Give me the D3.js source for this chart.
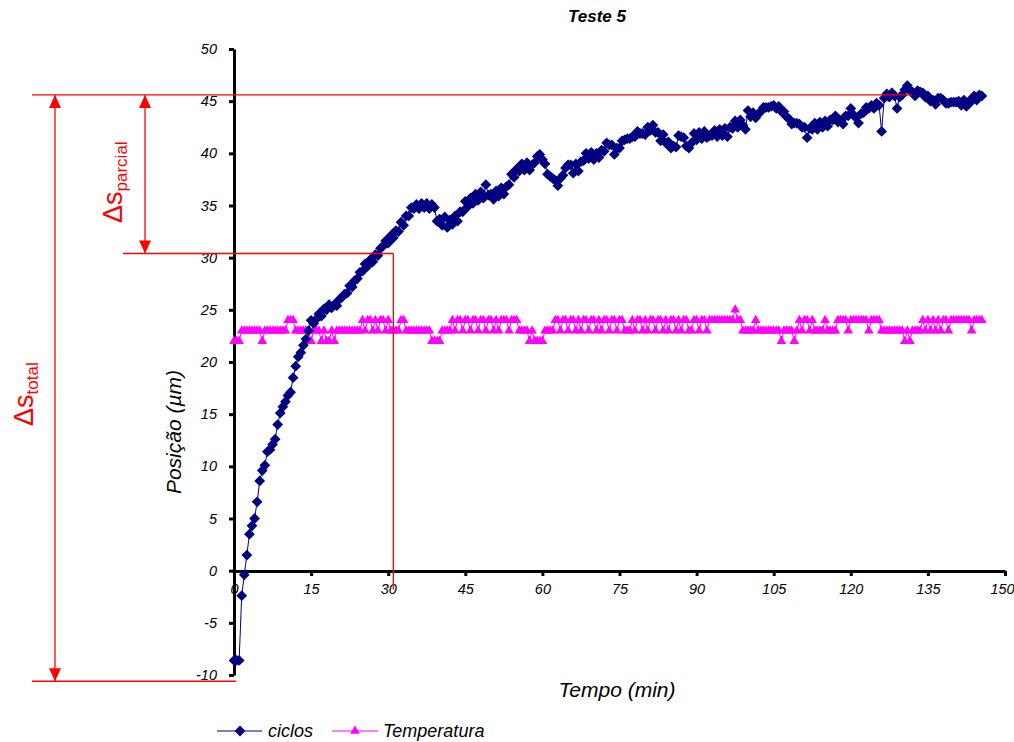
<!DOCTYPE html>
<html>
<head>
<meta charset="utf-8">
<script src="https://cdn.jsdelivr.net/npm/d3@7"></script>
<style>
  body { margin: 0; background: #fff; }
  svg { display: block; font-family: "Liberation Sans", Arial, sans-serif; }
</style>
</head>
<body>
<svg id="chart" width="1014" height="742"></svg>
<script>
// samples every 0.5 min
const passo = 0.5;

// posição (µm), "ciclos"
const ciclos = [
  -8.6,-8.6,-8.6,-2.4,-0.4,1.5,3.5,4.3,5.0,6.6,
  8.6,9.6,10.1,11.4,11.6,12.1,12.6,14.0,15.1,15.7,
  16.2,16.8,17.1,18.5,19.6,20.5,20.9,21.6,22.2,23.0,
  24.0,23.7,24.1,24.6,24.4,25.1,25.0,25.5,25.2,25.5,
  25.4,26.0,26.2,26.5,26.6,27.3,27.2,27.8,28.0,28.6,
  28.7,29.4,29.2,29.8,29.6,30.3,30.2,30.9,31.1,31.6,
  31.4,32.1,31.9,32.6,32.5,33.4,33.1,34.0,34.0,34.8,
  34.7,35.1,34.7,35.2,34.8,35.2,34.7,35.1,34.8,33.5,
  33.7,33.1,33.9,32.9,33.6,33.2,34.0,33.5,34.4,34.4,
  35.4,34.9,35.7,35.2,36.1,35.5,36.3,35.7,37.0,36.0,
  36.1,35.6,36.4,35.9,36.7,36.1,36.8,37.0,38.0,37.7,
  38.5,38.3,39.0,38.4,39.1,38.4,38.9,39.1,39.7,39.9,
  39.4,39.0,38.0,37.8,37.6,37.4,36.9,37.6,37.9,38.6,
  38.9,38.9,38.1,39.0,38.3,39.2,39.3,40.0,39.5,40.1,
  39.4,40.0,39.6,40.3,40.2,41.0,40.8,40.8,39.9,40.5,
  40.5,41.2,41.3,41.4,41.4,41.6,41.6,42.1,41.9,41.9,
  41.8,42.5,42.2,42.7,42.0,42.0,41.2,41.8,41.0,41.1,
  40.5,40.7,40.6,41.7,41.6,41.5,40.7,40.5,41.0,41.9,
  41.3,42.0,41.4,42.1,41.5,41.7,41.7,42.2,41.6,42.3,
  41.7,42.4,41.6,42.5,42.4,43.1,42.5,43.2,42.7,42.3,
  44.1,43.5,43.9,43.4,43.8,44.0,44.4,44.4,44.4,44.5,
  44.6,44.3,44.5,44.0,44.0,43.5,43.3,42.8,42.9,42.9,
  42.8,42.5,42.5,41.5,42.4,42.3,42.9,42.3,43.0,42.5,
  43.1,42.6,43.2,43.2,43.6,43.0,43.1,42.8,43.6,43.6,
  44.3,43.7,43.4,42.9,43.8,43.9,44.4,44.3,44.6,44.3,
  44.8,44.6,42.1,45.3,45.7,45.4,45.8,45.5,44.3,45.4,
  45.6,46.1,46.5,46.0,45.9,45.5,46.0,45.9,45.8,45.4,
  45.5,45.0,45.1,44.7,45.3,45.3,45.1,44.8,44.8,44.9,
  44.9,44.9,45.0,44.6,45.1,44.5,45.0,45.0,45.5,45.1,
  45.6,45.5
];

// temperatura (°C)
const temperatura = [
  22,22,22,23,23,23,23,23,23,23,
  23,22,23,23,23,23,23,23,23,23,
  23,24,24,24,23,23,23,23,23,23,
  22,23,23,23,22,23,22,22,23,22,
  23,23,23,23,23,23,23,23,23,23,
  24,23,24,24,23,24,23,24,24,23,
  24,23,23,23,23,24,24,23,23,23,
  23,23,23,23,23,23,23,22,22,22,
  22,23,23,23,23,24,23,24,24,23,
  24,24,23,24,24,23,24,24,23,24,
  24,23,24,23,24,24,24,23,24,24,
  24,23,23,23,23,22,23,22,22,22,
  22,23,23,23,23,24,24,23,24,24,
  23,24,24,23,24,23,24,24,23,24,
  24,23,24,23,24,24,23,24,24,23,
  24,24,23,23,23,24,23,24,24,23,
  24,23,24,24,23,24,24,23,24,23,
  24,24,23,24,23,24,24,23,23,24,
  24,23,24,24,23,24,24,24,24,24,
  24,24,24,24,24,25,24,24,23,23,
  23,23,23,24,23,23,23,23,23,23,
  23,23,23,22,23,23,23,23,22,23,
  24,23,24,24,23,24,23,23,23,23,
  24,23,23,23,23,24,24,24,24,23,
  24,24,24,24,24,24,24,23,24,24,
  24,24,23,23,23,23,23,23,23,23,
  23,22,23,22,23,23,23,23,24,23,
  24,23,24,23,24,23,24,24,23,24,
  24,24,24,24,24,24,24,23,24,24,
  24,24
];

const xTicks = [0, 15, 30, 45, 60, 75, 90, 105, 120, 135, 150];
const yTicks = [-10, -5, 0, 5, 10, 15, 20, 25, 30, 35, 40, 45, 50];

// Δs annotation levels (µm) and time (min)
const sTopo = 45.6;
const sParcial = 30.4;
const sBase = -10.6;
const tParcial = 31;
const tTopoFim = 132;
const sParcialFim = -1.8;

const corCiclos = "#000080";
const corTemp = "#ff00ff";
const corSeta = "#ff0000";
const fonte = "'Liberation Sans', Arial, sans-serif";

const svg = d3.select("#chart");

const x = d3.scaleLinear().domain([0, 150]).range([234, 1005]);
const y = d3.scaleLinear().domain([-10, 50]).range([675, 49]);

function estiloEixo(g) {
  g.attr("font-family", fonte)
    .attr("font-size", 14.5)
    .attr("font-style", "italic");
  g.select(".domain").attr("stroke", "#000").attr("stroke-width", 3);
  g.selectAll(".tick line").attr("stroke", "#000").attr("stroke-width", 3);
  g.selectAll(".tick text").attr("fill", "#000");
}

// eixo x
svg.append("g")
  .attr("transform", `translate(0,${Math.round(y(0))})`)
  .call(d3.axisBottom(x).tickValues(xTicks).tickSize(5).tickSizeOuter(0).tickPadding(8)
    .tickFormat(d => String(d)))
  .call(estiloEixo)
  .call(g => g.selectAll(".tick text").filter(d => d === 150).attr("dx", -3));

// eixo y
svg.append("g")
  .attr("transform", `translate(${Math.round(x(0))},0)`)
  .call(d3.axisLeft(y).tickValues(yTicks).tickSize(5).tickSizeOuter(0).tickPadding(12)
    .tickFormat(d => String(d)))
  .call(estiloEixo);

// títulos
svg.append("text")
  .attr("x", 597).attr("y", 22)
  .attr("text-anchor", "middle")
  .attr("font-family", fonte)
  .attr("font-size", 17)
  .attr("font-weight", "bold")
  .attr("font-style", "italic")
  .text("Teste 5");

svg.append("text")
  .attr("x", 617).attr("y", 697)
  .attr("text-anchor", "middle")
  .attr("font-family", fonte)
  .attr("font-size", 21)
  .attr("font-style", "italic")
  .text("Tempo (min)");

svg.append("text")
  .attr("transform", "translate(181,432) rotate(-90)")
  .attr("text-anchor", "middle")
  .attr("font-family", fonte)
  .attr("font-size", 21)
  .attr("font-style", "italic")
  .text("Posição (µm)");

// séries
const diamante = d3.symbol().type(d3.symbolSquare).size(58);
const triangulo = d3.symbol().type(d3.symbolTriangle).size(40);

const temp = temperatura.map((v, i) => [i * passo, v]);
const cic = ciclos.map((v, i) => [i * passo, v]);

const linha = d3.line().x(d => x(d[0])).y(d => y(d[1]));

svg.append("path")
  .datum(temp)
  .attr("fill", "none")
  .attr("stroke", corTemp)
  .attr("stroke-width", 1)
  .attr("d", linha);

svg.append("g")
  .attr("fill", corTemp)
  .selectAll("path")
  .data(temp)
  .join("path")
  .attr("transform", d => `translate(${x(d[0])},${y(d[1])})`)
  .attr("d", triangulo);

svg.append("path")
  .datum(cic)
  .attr("fill", "none")
  .attr("stroke", corCiclos)
  .attr("stroke-width", 1)
  .attr("d", linha);

svg.append("g")
  .attr("fill", corCiclos)
  .selectAll("path")
  .data(cic)
  .join("path")
  .attr("transform", d => `translate(${x(d[0])},${y(d[1])}) rotate(45)`)
  .attr("d", diamante);

// anotações Δs
const defs = svg.append("defs");
defs.append("marker")
  .attr("id", "seta")
  .attr("viewBox", "0 0 13 12")
  .attr("refX", 13).attr("refY", 6)
  .attr("markerWidth", 13).attr("markerHeight", 12)
  .attr("markerUnits", "userSpaceOnUse")
  .attr("orient", "auto-start-reverse")
  .append("path")
  .attr("d", "M0,0L13,6L0,12Z")
  .attr("fill", corSeta);

const anot = svg.append("g")
  .attr("stroke", corSeta)
  .attr("stroke-width", 1.3)
  .attr("fill", "none");

anot.append("line")
  .attr("x1", 32).attr("x2", x(tTopoFim))
  .attr("y1", y(sTopo)).attr("y2", y(sTopo));
anot.append("line")
  .attr("x1", 123).attr("x2", x(tParcial))
  .attr("y1", y(sParcial)).attr("y2", y(sParcial));
anot.append("line")
  .attr("x1", x(tParcial)).attr("x2", x(tParcial))
  .attr("y1", y(sParcial)).attr("y2", y(sParcialFim));
anot.append("line")
  .attr("x1", 32).attr("x2", x(0) + 2)
  .attr("y1", y(sBase)).attr("y2", y(sBase));

anot.append("line")
  .attr("x1", 55).attr("x2", 55)
  .attr("y1", y(sTopo)).attr("y2", y(sBase))
  .attr("marker-start", "url(#seta)")
  .attr("marker-end", "url(#seta)");
anot.append("line")
  .attr("x1", 145).attr("x2", 145)
  .attr("y1", y(sTopo)).attr("y2", y(sParcial))
  .attr("marker-start", "url(#seta)")
  .attr("marker-end", "url(#seta)");

function rotulo(tx, ty, sub) {
  const t = svg.append("text")
    .attr("transform", `translate(${tx},${ty}) rotate(-90)`)
    .attr("font-family", fonte)
    .attr("fill", corSeta)
    .attr("font-size", 27);
  t.append("tspan").text("Δs");
  t.append("tspan").attr("font-size", 17).attr("dy", 5).text(sub);
}
rotulo(33, 426, "total");
rotulo(122, 223, "parcial");

// legenda
const leg = svg.append("g").attr("font-family", fonte).attr("font-size", 18).attr("font-style", "italic");
leg.append("line").attr("x1", 217).attr("x2", 262).attr("y1", 731).attr("y2", 731).attr("stroke", corCiclos);
leg.append("path").attr("transform", "translate(240,731) rotate(45)").attr("d", diamante).attr("fill", corCiclos);
leg.append("text").attr("x", 268).attr("y", 737).text("ciclos");
leg.append("line").attr("x1", 332).attr("x2", 378).attr("y1", 731).attr("y2", 731).attr("stroke", corTemp);
leg.append("path").attr("transform", "translate(355,731)").attr("d", triangulo).attr("fill", corTemp);
leg.append("text").attr("x", 383).attr("y", 737).text("Temperatura");
</script>
</body>
</html>
